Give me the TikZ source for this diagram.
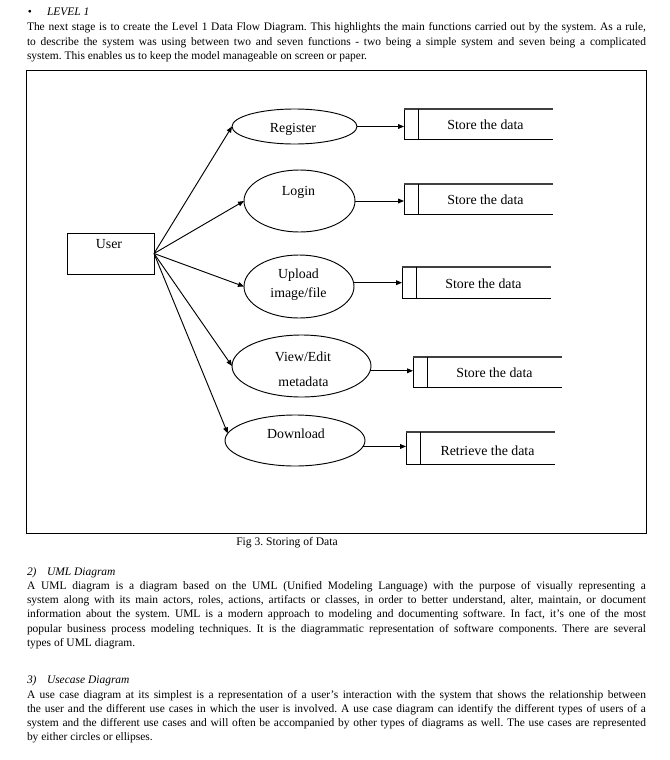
\documentclass[tikz,border=0pt]{standalone}
\usepackage{fontspec}
\setmainfont{Liberation Serif}
\usetikzlibrary{shapes.geometric,arrows.meta,calc}
\frenchspacing
\begin{document}
\begin{tikzpicture}[x=0.75pt,y=-0.75pt,
  line width=0.7pt,
  every node/.style={inner sep=0pt, outer sep=0pt},
  body/.style={anchor=base west, font=\fontsize{8.6}{10.7}\selectfont},
  head/.style={anchor=base west, font=\fontsize{8.6}{10.7}\selectfont\itshape},
  dtext/.style={anchor=base, font=\fontsize{10.4}{12}\selectfont},
  captext/.style={anchor=base, font=\fontsize{8.7}{10.7}\selectfont},
  proc/.style={draw, ellipse, inner sep=0pt},
  ubox/.style={draw, rectangle},
  store/.style={rectangle, draw=none},
  arr/.style={-{Triangle[length=4.5pt,width=3.6pt]}},
  frame/.style={draw, line width=0.75pt}
]
\useasboundingbox (0,0) rectangle (670,760);
\fill[white] (0,0) rectangle (670,760);

% ---------- header text ----------
\node[anchor=base, font=\fontsize{8.6}{10.7}\selectfont] (bul) at (30,16) {•};
\node[head] (lvl) at (47,16) {LEVEL 1};
\node[body] (p1) at (27,31) {\parbox[t]{464.25pt}{\frenchspacing The next stage is to create the Level 1 Data Flow Diagram. This highlights the main functions carried out by the system. As a rule,\linebreak to describe the system was using between two and seven functions - two being a simple system and seven being a complicated\linebreak system. This enables us to keep the model manageable on screen or paper.}};

% ---------- diagram ----------
\draw[frame] (26,70) rectangle (646,533);

\node[ubox, minimum width=87*0.75pt, minimum height=41*0.75pt] (user) at (110.5,253.5) {};
\node[dtext] (userlbl) at (109,248.5) {User};

\node[proc, minimum width=125*0.75pt, minimum height=35*0.75pt] (e1) at (294.5,126.5) {};
\node[proc, minimum width=111*0.75pt, minimum height=62*0.75pt] (e2) at (299.5,201) {};
\node[proc, minimum width=110*0.75pt, minimum height=63*0.75pt] (e3) at (299,286.5) {};
\node[proc, minimum width=139*0.75pt, minimum height=62*0.75pt] (e4) at (301.5,366) {};
\node[proc, minimum width=140*0.75pt, minimum height=51*0.75pt] (e5) at (295,440.5) {};

\node[dtext] (t1) at (293,132.5) {Register};
\node[dtext] (t2) at (298.5,195.5) {Login};
\node[dtext] (t3a) at (298.5,278.5) {Upload};
\node[dtext] (t3b) at (298.5,297.5) {image/file};
\node[dtext] (t4a) at (303,361.5) {View/Edit};
\node[dtext] (t4b) at (303.5,386.5) {metadata};
\node[dtext] (t5) at (296,438.5) {Download};

\node[store, minimum width=149*0.75pt, minimum height=30*0.75pt] (s1) at (478.5,124) {};
\node[store, minimum width=149*0.75pt, minimum height=30*0.75pt] (s2) at (478.5,199) {};
\node[store, minimum width=149*0.75pt, minimum height=31*0.75pt] (s3) at (476.5,282.5) {};
\node[store, minimum width=149*0.75pt, minimum height=30*0.75pt] (s4) at (487.5,372) {};
\node[store, minimum width=149*0.75pt, minimum height=32*0.75pt] (s5) at (480.5,448) {};

\foreach \s in {s1,s2,s3,s4,s5} {
  \draw (\s.north west) -- (\s.south west) -- (\s.south east);
  \draw[black!75, line width=0.9pt] (\s.north west) -- (\s.north east);
  \draw ($(\s.north west)+(14,0)$) -- ($(\s.south west)+(14,0)$);
}
\node[dtext] (l1) at ($(s1.center)+(7,5)$) {Store the data};
\node[dtext] (l2) at ($(s2.center)+(7,5.5)$) {Store the data};
\node[dtext] (l3) at ($(s3.center)+(7,6)$) {Store the data};
\node[dtext] (l4) at ($(s4.center)+(7,5.5)$) {Store the data};
\node[dtext] (l5) at ($(s5.center)+(7,7)$) {Retrieve the data};

\draw[arr] (user.east) -- (e1.west);
\draw[arr] (user.east) -- (e2.west);
\draw[arr] (user.east) -- (e3.west);
\draw[arr] (user.east) -- (e4.west);
\draw[arr] (user.east) -- (e5.174);

\draw[arr] (e1.east) -- (e1.east -| s1.west);
\draw[arr] (e2.east) -- (e2.east -| s2.west);
\draw[arr] (e3.4) -- (e3.4 -| s3.west);
\draw[arr] (e4.-4) -- (e4.-4 -| s4.west);
\draw[arr] (e5.-5.5) -- (e5.-5.5 -| s5.west);

\node[captext] (cap) at (287,545.5) {Fig 3. Storing of Data};

% ---------- lower text ----------
\node[head] (h2n) at (27,575) {2)};
\node[head] (h2) at (47,575) {UML Diagram};
\node[body] (p2) at (27,589) {\parbox[t]{464.25pt}{\frenchspacing\fontsize{8.6}{10.85}\selectfont A UML diagram is a diagram based on the UML (Unified Modeling Language) with the purpose of visually representing a\linebreak system along with its main actors, roles, actions, artifacts or classes, in order to better understand, alter, maintain, or document\linebreak information about the system. UML is a modern approach to modeling and documenting software. In fact, it’s one of the most\linebreak popular business process modeling techniques. It is the diagrammatic representation of software components. There are several\linebreak types of UML diagram.}};

\node[head] (h3n) at (27,683) {3)};
\node[head] (h3) at (47,683) {Usecase Diagram};
\node[body] (p3) at (27,698) {\parbox[t]{464.25pt}{\frenchspacing A use case diagram at its simplest is a representation of a user's interaction with the system that shows the relationship between\linebreak the user and the different use cases in which the user is involved. A use case diagram can identify the different types of users of a\linebreak system and the different use cases and will often be accompanied by other types of diagrams as well. The use cases are represented\linebreak by either circles or ellipses.}};
\end{tikzpicture}
\end{document}
